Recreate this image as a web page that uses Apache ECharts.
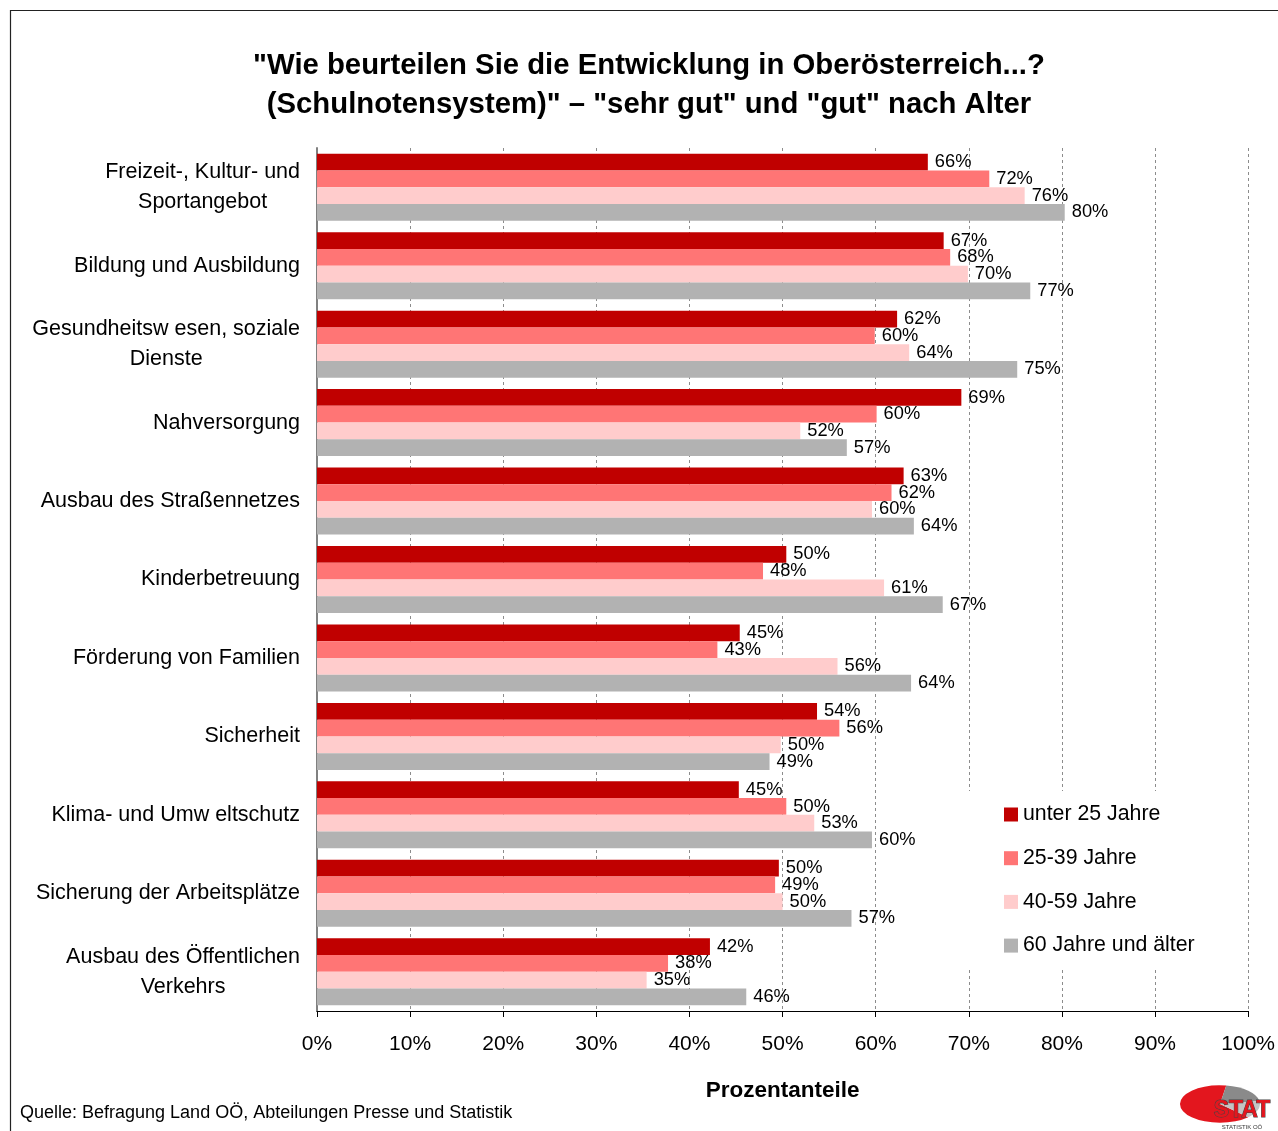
<!DOCTYPE html>
<html>
<head>
<meta charset="utf-8">
<script src="https://cdn.jsdelivr.net/npm/echarts@6/dist/echarts.min.js"></script>
<style>
html,body{margin:0;padding:0;background:#fff;}
#chart{width:1278px;height:1131px;}
</style>
</head>
<body>
<div id="chart"></div>
<script>
const categories = [
  'Freizeit-, Kultur- und\nSportangebot',
  'Bildung und Ausbildung',
  'Gesundheitsw esen, soziale\nDienste',
  'Nahversorgung',
  'Ausbau des Straßennetzes',
  'Kinderbetreuung',
  'Förderung von Familien',
  'Sicherheit',
  'Klima- und Umw eltschutz',
  'Sicherung der Arbeitsplätze',
  'Ausbau des Öffentlichen\nVerkehrs'
];
const seriesNames = ['unter 25 Jahre', '25-39 Jahre', '40-59 Jahre', '60 Jahre und älter'];
const under25 = [65.6, 67.3, 62.3, 69.2, 63.0, 50.4, 45.4, 53.7, 45.3, 49.6, 42.2];
const age25to39 = [72.2, 68.0, 59.9, 60.1, 61.7, 47.9, 43.0, 56.1, 50.4, 49.2, 37.7];
const age40to59 = [76.0, 69.9, 63.6, 51.9, 59.6, 60.9, 55.9, 49.8, 53.4, 50.0, 35.4];
const age60plus = [80.3, 76.6, 75.2, 56.9, 64.1, 67.2, 63.8, 48.6, 59.6, 57.4, 46.1];
const colors = ['#C00000', '#FF7575', '#FFCCCC', '#B2B2B2'];
const titleText = '"Wie beurteilen Sie die Entwicklung in Oberösterreich...?\n(Schulnotensystem)" – "sehr gut" und "gut" nach Alter';
const sourceText = 'Quelle: Befragung Land OÖ, Abteilungen Presse und Statistik';
const axisName = 'Prozentanteile';

const FONT = '"Liberation Sans", Arial, sans-serif';
const chart = echarts.init(document.getElementById('chart'), null, {renderer: 'canvas'});
const allData = [under25, age25to39, age40to59, age60plus];

const option = {
  backgroundColor: '#fff',
  animation: false,
  textStyle: {fontFamily: FONT},
  title: [{
    text: titleText,
    left: 649,
    top: 46,
    textAlign: 'center',
    padding: 0,
    textStyle: {fontFamily: FONT, fontSize: 29.3, fontWeight: 'bold', color: '#000', lineHeight: 39}
  }, {
    text: sourceText,
    left: 20,
    top: 1104,
    padding: 0,
    textStyle: {fontFamily: FONT, fontSize: 18, fontWeight: 'normal', color: '#000'}
  }],
  legend: {
    orient: 'vertical',
    left: 965,
    top: 791,
    data: seriesNames,
    icon: 'rect',
    itemWidth: 14,
    itemHeight: 14,
    itemGap: 22.7,
    padding: [13, 40, 13, 39],
    backgroundColor: '#fff',
    textStyle: {fontFamily: FONT, fontSize: 21.3, color: '#000', lineHeight: 20}
  },
  grid: {left: 317, right: 28, top: 148, bottom: 120, containLabel: false},
  xAxis: {
    type: 'value',
    min: 0, max: 100, interval: 10,
    name: axisName,
    nameLocation: 'middle',
    nameGap: 68,
    nameTextStyle: {fontFamily: FONT, fontSize: 22.5, fontWeight: 'bold', color: '#000'},
    axisLine: {show: true, lineStyle: {color: '#000', width: 1}},
    axisTick: {show: true, length: 6, lineStyle: {color: '#000'}},
    axisLabel: {formatter: '{value}%', fontSize: 21, color: '#000', margin: 23, fontFamily: FONT},
    splitLine: {show: true, lineStyle: {color: '#8c8c8c', type: [3, 3], width: 1}}
  },
  yAxis: {
    type: 'category',
    inverse: true,
    data: categories,
    axisLine: {show: true, lineStyle: {color: '#808080', width: 2}},
    axisTick: {show: false},
    axisLabel: {
      margin: 17,
      color: '#000',
      fontSize: 21.5,
      fontFamily: FONT,
      lineHeight: 30,
      formatter: function (v) {
        return v.split('\n').map(function (s) { return '{c|' + s + '}'; }).join('\n');
      },
      rich: {c: {fontSize: 21.5, lineHeight: 30, align: 'center', color: '#000', fontFamily: FONT}}
    },
    splitLine: {show: false}
  },
  series: seriesNames.map(function (name, i) {
    return {
      name: name,
      type: 'bar',
      data: allData[i],
      barGap: '0%',
      barCategoryGap: '14.6%',
      itemStyle: {color: colors[i]},
      label: {
        show: true,
        position: 'right',
        distance: 7,
        fontSize: 18.3,
        color: '#000',
        fontFamily: FONT,
        formatter: function (p) { return Math.round(p.value) + '%'; }
      }
    };
  }),
  graphic: [
    {type: 'rect', silent: true, z: 100, shape: {x: 10.5, y: 10.5, width: 1400, height: 1400}, style: {fill: 'none', stroke: '#222', lineWidth: 1.2}},
    {type: 'group', x: 1220, y: 1104, scaleY: 0.47, z: 100, children: [
      {type: 'sector', shape: {cx: 0, cy: 0, r: 40, r0: 0, startAngle: Math.PI * 0.25, endAngle: Math.PI * 1.55}, style: {fill: '#E3161E'}},
      {type: 'sector', shape: {cx: 0, cy: 0, r: 40, r0: 0, startAngle: Math.PI * 1.55, endAngle: Math.PI * 1.95}, style: {fill: '#8a8a8a'}},
      {type: 'sector', shape: {cx: 0, cy: 0, r: 40, r0: 0, startAngle: Math.PI * 1.95, endAngle: Math.PI * 2.25}, style: {fill: '#c4c4c4'}}
    ]},
    {type: 'text', z: 101, x: 1242, y: 1111, style: {text: 'STAT', fontFamily: FONT, fontSize: 23, fontWeight: 'bold', fill: '#E3161E', stroke: '#444', lineWidth: 1, textAlign: 'center', textVerticalAlign: 'middle'}},
    {type: 'text', z: 101, x: 1242, y: 1127, style: {text: 'STATISTIK OÖ', fontFamily: FONT, fontSize: 6, fill: '#333', textAlign: 'center', textVerticalAlign: 'middle'}}
  ]
};
chart.setOption(option);
</script>
</body>
</html>
